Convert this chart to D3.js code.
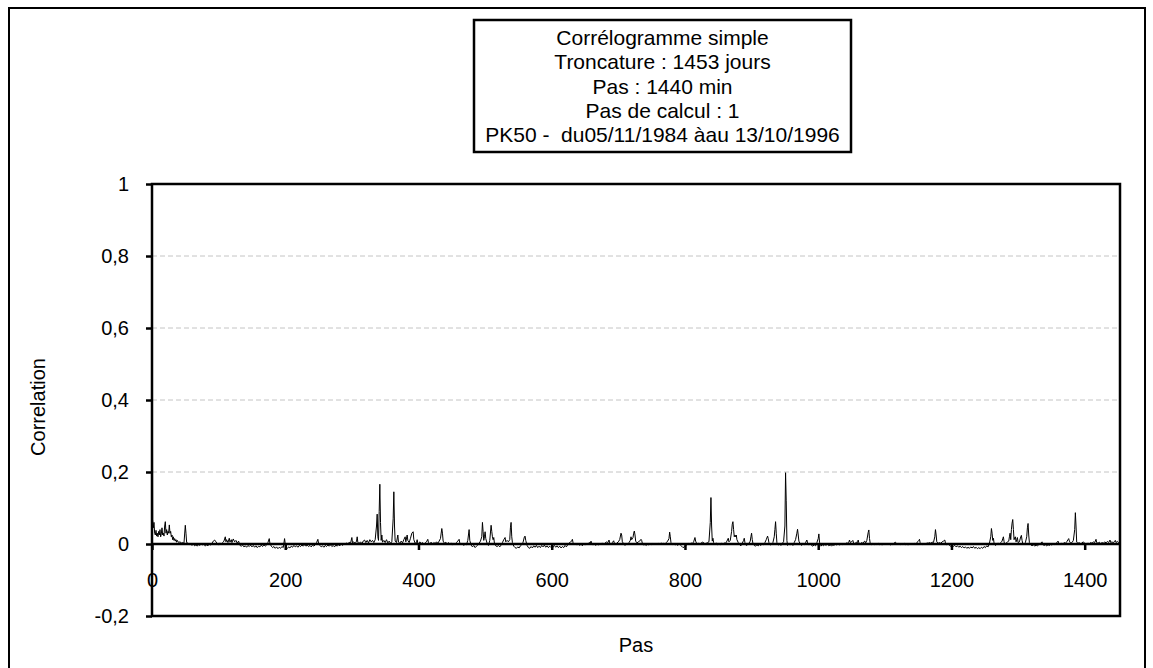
<!DOCTYPE html>
<html>
<head>
<meta charset="utf-8">
<script src="https://cdn.jsdelivr.net/npm/d3@7"></script>
<style>
  body { margin: 0; background: #fff; }
  text { font-family: "Liberation Sans", Arial, sans-serif; fill: #000; }
</style>
</head>
<body>
<div id="chart"></div>
<script>
// title lines (in the box)
var titleLines = [
    "Corrélogramme simple",
    "Troncature : 1453 jours",
    "Pas : 1440 min",
    "Pas de calcul : 1",
    "PK50 -  du05/11/1984 àau 13/10/1996"
];

var xTicks = [0, 200, 400, 600, 800, 1000, 1200, 1400];
var yTicks = [-0.2, 0, 0.2, 0.4, 0.6, 0.8, 1];
var yTickLabels = ["-0,2", "0", "0,2", "0,4", "0,6", "0,8", "1"];
var gridTicks = [0.2, 0.4, 0.6, 0.8];

// [lag, correlation]
var seg0 = [[0,1],[1,0.068],[2,0.045],[3,0.06],[4,0.03],[5,0.025],[6,0.038],[7,0.022],[8,0.03],[9,0.02],[10,0.035],[11,0.025],[12,0.04],[13,0.02],[14,0.028],[15,0.045],[16,0.025],[17,0.03],[18,0.022],[19,0.05],[20,0.062],[21,0.03],[22,0.04],[23,0.025],[24,0.035],[25,0.03],[26,0.053],[27,0.03],[28,0.035],[29,0.02],[30,0.025],[31,0.012],[32,0.02],[33,0.01],[34,0.015],[35,0.008],[36,0.012],[37,0.005],[38,0.01],[40,0.004],[42,0.006],[44,0.003],[46,0.004],[48,0.002],[50,0.052],[51,0.03],[52,0.004],[54,0.002],[56,-0.002],[58,0.001],[60,-0.004],[62,0],[64,-0.005],[66,-0.002],[68,-0.006],[70,-0.001],[72,-0.004],[74,0.001],[76,-0.003],[78,0],[80,-0.006],[82,-0.002],[84,-0.005],[86,0],[88,-0.003],[90,0.002],[92,0.008],[94,0.011],[96,0.006],[98,0.001],[100,-0.003],[102,0.003],[104,-0.002],[106,0.004],[108,0.008],[110,0.02],[111,0.006],[112,0.012],[114,0.004],[116,0.016],[117,0.005],[119,0.012],[120,0.004],[122,0.014],[124,0.006],[126,0.01],[128,0.002],[130,0.008],[132,-0.004],[134,-0.006],[136,-0.003],[138,-0.008],[140,-0.005],[142,-0.009],[144,-0.004],[146,-0.007],[148,-0.003],[150,-0.008]];

var seg1 = [[152,-0.004],[154,-0.009],[156,-0.005],[158,-0.01],[160,-0.006],[162,-0.008],[164,-0.003],[166,-0.007],[168,-0.002],[170,-0.006],[172,-0.003],[174,0.004],[176,0.015],[177,0.002],[179,-0.006],[181,-0.01],[183,-0.007],[185,-0.012],[187,-0.008],[189,-0.013],[191,-0.009],[193,-0.012],[195,-0.007],[197,-0.01],[199,0.015],[200,0],[201,-0.01],[203,-0.013],[205,-0.008],[207,-0.011],[209,-0.006],[211,-0.009],[213,-0.004],[215,-0.008],[217,-0.005],[219,-0.009],[221,-0.004],[223,-0.007],[225,-0.003],[227,-0.006],[229,-0.002],[231,-0.006],[233,-0.003],[235,-0.007],[237,-0.004],[239,-0.008],[241,-0.003],[243,-0.006],[245,-0.002],[247,0.004],[249,0.013],[250,0.002],[252,-0.004],[254,-0.008],[256,-0.005],[258,-0.009],[260,-0.004],[262,-0.007],[264,-0.003],[266,-0.006],[268,-0.002],[270,-0.007],[272,-0.004],[274,-0.008],[276,-0.003],[278,-0.006],[280,-0.002],[282,-0.005],[284,0],[286,-0.004],[288,0.002],[290,-0.002],[292,0.003],[294,0],[296,0.005],[298,0.002],[300,0.018],[301,0.003],[303,0.006],[305,0.001],[307,0.008],[308,0.02],[309,0.004],[311,0.002]];

var seg2 = [[313,0.006],[315,0.001],[317,0.008],[319,0.011],[321,0.004],[323,0.01],[325,0.003],[327,0.012],[329,0.006],[331,0.01],[333,0.004],[335,0.012],[337,0.05],[338,0.083],[339,0.02],[340,0.01],[341,0.09],[342,0.166],[343,0.06],[344,0.01],[345,0.025],[346,0.005],[348,0.01],[350,0.004],[352,0.012],[354,0.003],[356,0.008],[358,0.002],[360,0.006],[362,0.07],[363,0.145],[364,0.05],[365,0.008],[367,0.004],[369,0.025],[370,0.005],[372,0.002],[374,0.008],[376,0.003],[378,0.012],[380,0.02],[381,0.006],[383,0.025],[384,0.01],[386,0.004],[388,0.016],[390,0.03],[392,0.034],[393,0.012],[395,0.002],[397,0.004],[398,0.012],[399,0.002],[400,-0.004],[401,-0.006],[402,0.006],[404,0.001],[406,0.004],[408,-0.001],[410,0.003],[412,0.006],[414,0.013],[415,0.004],[417,0.001],[419,0.005],[421,-0.002],[423,0.004],[425,0.001],[427,0.006],[429,0.002],[431,0.008],[433,0.015],[435,0.043],[436,0.03],[437,0.008],[439,0.002],[441,0.005],[443,0],[445,0.004],[447,-0.002],[449,0.003],[451,-0.003],[453,0.002],[455,-0.002],[457,0.004],[459,0.008],[461,0.013],[462,0.003],[464,-0.002],[466,0.002],[468,-0.004],[470,0.001],[472,-0.002],[474,0.01],[476,0.04],[477,0.01],[479,-0.003],[481,-0.008],[483,-0.004],[485,-0.01],[487,-0.006],[489,-0.003],[491,0.002],[493,0.008],[495,0.02],[496,0.06],[497,0.035],[498,0.01],[499,0.02],[500,0.034],[501,0.015],[503,0.002],[505,-0.004],[507,0.01],[509,0.052],[510,0.035],[511,0.02],[512,0.012],[513,0.018],[514,0.002],[516,-0.005],[518,-0.007],[520,-0.004],[522,-0.008],[524,-0.003],[526,0.004],[528,0.012],[530,0.018],[531,0.006],[533,0.01],[535,0.006],[537,0.012],[538,0.045],[539,0.06],[540,0.02],[541,0.004],[543,-0.006],[545,-0.01],[547,-0.012],[549,-0.008],[551,-0.011],[553,-0.005],[555,-0.002],[557,0.005],[559,0.02],[560,0.022],[561,0.01],[563,-0.004],[565,-0.01],[567,-0.012],[569,-0.007],[571,-0.011],[573,-0.005],[575,-0.009],[577,-0.004],[579,-0.01],[581,-0.006],[583,-0.01],[585,-0.004],[587,-0.008],[589,-0.003],[591,-0.009],[593,-0.005],[595,-0.01],[597,-0.006],[599,-0.01]];

var seg3 = [[601,-0.012],[602,-0.008],[604,-0.004],[606,-0.009],[608,-0.005],[610,-0.01],[612,-0.006],[614,-0.011],[616,-0.007],[618,-0.01],[620,-0.004],[622,-0.008],[624,-0.002],[626,0.002],[628,0.006],[630,0.008],[631,0.013],[632,0.004],[634,-0.002],[636,0.002],[638,-0.003],[640,0.001],[642,-0.004],[644,0],[646,-0.005],[648,0.001],[650,-0.003],[652,0.002],[654,-0.002],[656,0.004],[658,0.002],[659,0.008],[660,0.001],[662,-0.003],[664,0.001],[666,-0.004],[668,0],[670,-0.003],[672,0.002],[674,-0.002],[676,0.003],[678,-0.001],[680,0.002],[682,0.006],[684,0.003],[686,0.011],[687,0.003],[689,0],[691,0.004],[693,0.009],[694,0.002],[696,-0.002],[698,0.003],[700,0.006],[702,0.012],[704,0.03],[705,0.025],[706,0.006],[708,0.001],[710,-0.004],[712,0.002],[714,-0.002],[716,0.004],[718,0.01],[719,0.02],[720,0.012],[722,0.018],[723,0.03],[724,0.036],[725,0.025],[726,0.008],[728,0.003],[730,0.006],[732,0.008],[734,0.013],[735,0.01],[736,0.002],[738,-0.003],[740,-0.001],[742,-0.004],[744,0],[746,-0.003],[748,0.001],[750,-0.002],[752,0.002],[754,-0.001],[756,0.001],[758,-0.002],[760,0.002],[762,-0.001],[764,0.003],[766,0],[768,0.002],[770,-0.002],[772,0.004],[774,0.008],[776,0.015],[777,0.033],[778,0.02],[779,0.004],[781,-0.002],[783,0.001],[785,-0.003],[787,0],[789,-0.004],[791,0.001],[793,-0.003],[795,-0.006],[797,-0.01],[799,-0.008],[800,-0.006],[801,-0.004],[803,-0.002],[805,0.002],[807,-0.001],[809,0.003],[811,0.001],[813,0.006],[815,0.018],[816,0.008],[818,0],[820,0.002],[822,-0.001],[824,0.002],[826,0.005],[828,0.004],[830,0],[832,0.002],[834,0.004],[836,0.006],[838,0.06],[839,0.129],[840,0.05],[841,0.008],[842,0.016],[843,0.004],[845,0],[847,0.003],[849,-0.002],[851,0.001],[853,-0.002],[855,0.002],[857,-0.001],[859,0.003],[861,0.002],[863,0.008],[865,0.016],[866,0.006],[868,0.01],[870,0.035],[871,0.055],[872,0.062],[873,0.04],[874,0.02],[875,0.025],[876,0.02],[877,0.025],[878,0.012],[880,0.004],[882,-0.002],[884,-0.005],[886,0.002],[888,0.01],[889,0.016],[890,0.004],[892,-0.004],[894,-0.002],[896,0.002],[898,0.008],[899,0.02],[900,0.03],[901,0.012],[902,0.002]];

var seg4 = [[904,-0.004],[906,-0.006],[908,-0.002],[910,-0.005],[912,-0.001],[914,-0.004],[916,0],[918,-0.002],[920,0.004],[922,0.012],[924,0.022],[925,0.015],[926,0.004],[928,-0.003],[930,0],[932,0.004],[934,0.02],[935,0.04],[936,0.062],[937,0.03],[938,0.004],[940,-0.003],[942,0],[944,-0.004],[946,0.002],[948,0.006],[950,0.05],[951,0.198],[952,0.12],[953,0.01],[954,-0.004],[956,0.002],[958,-0.003],[960,0.001],[962,-0.004],[964,0.004],[966,0.012],[968,0.03],[969,0.041],[970,0.025],[971,0.008],[973,0],[975,-0.004],[977,0.001],[979,-0.002],[981,0.004],[983,0.011],[984,0.003],[986,-0.003],[988,0.001],[990,-0.004],[992,-0.006],[994,-0.002],[996,-0.005],[998,0.004],[1000,0.015],[1001,0.028],[1002,0.005],[1003,-0.004],[1004,-0.006],[1006,-0.002],[1008,-0.005],[1010,-0.001],[1012,-0.004],[1014,0],[1016,-0.005],[1018,-0.002],[1020,-0.006],[1022,-0.002],[1024,-0.004],[1026,0],[1028,-0.003],[1030,0.001],[1032,-0.003],[1034,0],[1036,-0.002],[1038,0.002],[1040,-0.002],[1042,0.003],[1044,0.002],[1046,0.006],[1047,0.011],[1048,0.004],[1050,0.006],[1052,0.01],[1053,0.003],[1055,0.001],[1057,0.005],[1059,0.004],[1060,0.011],[1061,0.003],[1063,0],[1065,0.004],[1067,0.002],[1069,0.007],[1070,0.008],[1071,0.002],[1073,0.01],[1075,0.032],[1076,0.039],[1077,0.015],[1078,0.003],[1080,-0.002],[1082,0.001],[1084,-0.002],[1086,0.001],[1088,-0.001],[1090,0.002],[1092,-0.002],[1094,0],[1096,-0.003],[1098,0.001],[1100,-0.002],[1102,0.002],[1104,-0.001],[1106,0.001],[1108,-0.003],[1110,0],[1112,-0.002],[1114,0.003],[1116,0.005],[1117,0.002],[1119,-0.001],[1121,0.001],[1123,-0.002],[1125,0.001],[1127,-0.001],[1129,0.002],[1131,-0.002],[1133,0],[1135,-0.003],[1137,0.001],[1139,-0.002],[1141,0.002],[1143,-0.001],[1145,0.002],[1147,0],[1149,0.006],[1151,0.01],[1152,0.013],[1153,0.004],[1155,0],[1157,-0.002],[1159,0.002],[1161,-0.001],[1163,0.003],[1165,0.002],[1167,0.004],[1169,0.002],[1171,0.005],[1173,0.004],[1175,0.02],[1176,0.04],[1177,0.025],[1178,0.006],[1180,0.002],[1182,0.004],[1184,0.002],[1186,0.006],[1188,0.008],[1190,0.011],[1191,0.003],[1193,-0.002],[1195,0.001],[1197,-0.004],[1199,-0.006],[1201,-0.01],[1202,-0.008],[1203,-0.006]];

var seg5 = [[1205,-0.004],[1207,-0.008],[1209,-0.005],[1211,-0.009],[1213,-0.006],[1215,-0.01],[1217,-0.007],[1219,-0.011],[1221,-0.008],[1223,-0.012],[1225,-0.009],[1227,-0.012],[1229,-0.008],[1231,-0.011],[1233,-0.007],[1235,-0.012],[1237,-0.009],[1239,-0.013],[1241,-0.01],[1243,-0.013],[1245,-0.009],[1247,-0.012],[1249,-0.007],[1251,-0.01],[1253,-0.005],[1255,-0.008],[1257,0.002],[1259,0.02],[1260,0.043],[1261,0.03],[1262,0.01],[1263,0.016],[1264,0.002],[1266,-0.004],[1268,-0.001],[1270,0.003],[1272,-0.002],[1274,0.004],[1276,0.008],[1277,0.015],[1278,0.02],[1279,0.006],[1280,-0.002],[1282,0.002],[1284,0.006],[1286,0.008],[1287,0.02],[1288,0.03],[1289,0.012],[1290,0.04],[1291,0.058],[1292,0.068],[1293,0.04],[1294,0.012],[1295,0.018],[1296,0.02],[1297,0.006],[1298,0.012],[1299,0.018],[1300,0.004],[1302,0.006],[1304,0.02],[1305,0.024],[1306,0.01],[1307,0.002],[1309,-0.002],[1311,0.004],[1313,0.02],[1314,0.045],[1315,0.057],[1316,0.025],[1317,0.004],[1319,-0.002],[1321,-0.005],[1323,-0.002],[1325,-0.006],[1327,-0.003],[1329,-0.005],[1331,-0.002],[1333,0.001],[1335,0.003],[1336,0.006],[1337,-0.001],[1339,-0.004],[1341,-0.002],[1343,-0.005],[1345,-0.002],[1347,-0.004],[1349,-0.001],[1351,-0.003],[1353,0.001],[1355,-0.002],[1357,0.002],[1359,0.005],[1360,0.008],[1361,0.001],[1363,-0.002],[1365,0.002],[1367,0],[1369,0.004],[1371,0.002],[1373,0.006],[1375,0.012],[1376,0.015],[1377,0.008],[1379,0.002],[1381,0.004],[1383,0.01],[1385,0.04],[1386,0.087],[1387,0.05],[1388,0.005],[1390,0.002],[1392,0.004],[1394,0],[1396,0.003],[1398,0.006],[1400,0.002],[1401,-0.002],[1402,0],[1403,0.001],[1405,0.002],[1407,0.001],[1409,0.004],[1411,0.002],[1413,0.006],[1415,0.004],[1417,0.013],[1418,0.004],[1420,0.002],[1422,0.005],[1424,0.001],[1426,0.004],[1428,0.002],[1430,0.006],[1432,0.003],[1434,0.007],[1436,0.004],[1438,0.011],[1439,0.004],[1441,0.006],[1443,0.003],[1445,0.008],[1446,0.01],[1447,0.004],[1449,0.007],[1451,0.004],[1453,0.006]];

var series = seg0.concat(seg1, seg2, seg3, seg4, seg5);

var W = 1153, H = 668;
var plot = { left: 152, right: 1120, top: 184, bottom: 616 };

var svg = d3.select("#chart")
    .append("svg")
    .attr("width", W)
    .attr("height", H);

// outer chart border
svg.append("rect")
    .attr("x", 9).attr("y", 8)
    .attr("width", 1136).attr("height", 680)
    .attr("fill", "none")
    .attr("stroke", "#000")
    .attr("stroke-width", 2);

var x = d3.scaleLinear().domain([0, 1453]).range([plot.left, plot.right]);
var y = d3.scaleLinear().domain([-0.2, 1]).range([plot.bottom, plot.top]);

// grid
svg.append("g")
    .selectAll("line")
    .data(gridTicks)
    .enter().append("line")
    .attr("x1", plot.left).attr("x2", plot.right)
    .attr("y1", d => y(d)).attr("y2", d => y(d))
    .attr("stroke", "#c4c4c4")
    .attr("stroke-width", 1)
    .attr("stroke-dasharray", "5,3");

// the series
var line = d3.line()
    .x(d => x(d[0]))
    .y(d => y(d[1]));

svg.append("path")
    .datum(series)
    .attr("d", line)
    .attr("fill", "none")
    .attr("stroke", "#000")
    .attr("stroke-width", 1);

// y axis
var yAxis = d3.axisLeft(y)
    .tickValues(yTicks)
    .tickFormat((d, i) => yTickLabels[i])
    .tickSize(6)
    .tickPadding(17);

var gy = svg.append("g")
    .attr("transform", "translate(" + plot.left + ",0)")
    .call(yAxis);
gy.select(".domain").remove();
gy.selectAll(".tick line").attr("stroke", "#000").attr("stroke-width", 2.5);
gy.selectAll(".tick text").style("font-size", "20px");

// x axis sits on y = 0
var xAxis = d3.axisBottom(x)
    .tickValues(xTicks)
    .tickFormat(d => d)
    .tickSize(6);

var gx = svg.append("g")
    .attr("transform", "translate(0," + y(0) + ")")
    .call(xAxis);
gx.select(".domain")
    .attr("stroke", "#000")
    .attr("stroke-width", 2.5)
    .attr("d", "M" + plot.left + ",0H" + plot.right);
gx.selectAll(".tick line").attr("stroke", "#000").attr("stroke-width", 2.5);
gx.selectAll(".tick text")
    .attr("y", 43).attr("dy", 0)
    .style("font-size", "20px");

// plot area frame
svg.append("rect")
    .attr("x", plot.left).attr("y", plot.top)
    .attr("width", plot.right - plot.left)
    .attr("height", plot.bottom - plot.top)
    .attr("fill", "none")
    .attr("stroke", "#000")
    .attr("stroke-width", 2.5);

// axis titles
svg.append("text")
    .attr("x", (plot.left + plot.right) / 2)
    .attr("y", 652)
    .attr("text-anchor", "middle")
    .style("font-size", "20px")
    .text("Pas");

svg.append("text")
    .attr("transform", "translate(45,407) rotate(-90)")
    .attr("text-anchor", "middle")
    .style("font-size", "20px")
    .text("Correlation");

// title box
svg.append("rect")
    .attr("x", 474).attr("y", 20)
    .attr("width", 377).attr("height", 132)
    .attr("fill", "#fff")
    .attr("stroke", "#000")
    .attr("stroke-width", 2.5);

svg.append("g")
    .selectAll("text")
    .data(titleLines)
    .enter().append("text")
    .attr("x", 662.5)
    .attr("y", (d, i) => 45 + i * 24.3)
    .attr("text-anchor", "middle")
    .style("font-size", "21px")
    .style("white-space", "pre")
    .text(d => d);
</script>
</body>
</html>
